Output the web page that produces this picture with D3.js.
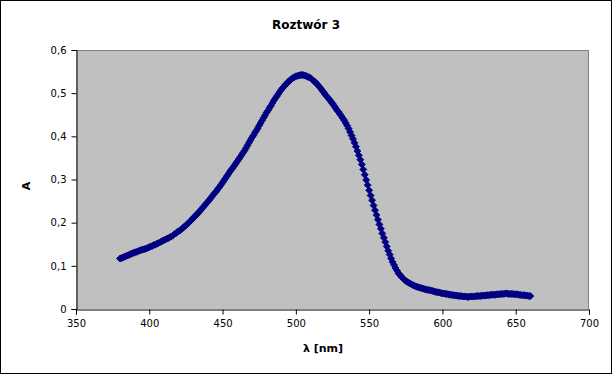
<!DOCTYPE html>
<html><head><meta charset="utf-8">
<script src="https://cdn.jsdelivr.net/npm/d3@7"></script>
<style>body{margin:0;background:#fff}svg{display:block}text{font-family:"DejaVu Sans",sans-serif;fill:#000}</style>
</head><body>
<script>
const titleText = "Roztwór 3";
const xLabel = "λ [nm]";
const yLabel = "A";
const xTicks = [350,400,450,500,550,600,650,700];
const yTicks = [0,0.1,0.2,0.3,0.4,0.5,0.6];
const wavelengths = d3.range(380, 661, 1);
const absorbance = [
.117,.118,.119,.121,.122,.124,.125,.127,.128,.130,
.131,.132,.133,.135,.136,.137,.138,.139,.140,.142,
.143,.145,.146,.148,.149,.151,.152,.154,.156,.158,
.159,.161,.163,.164,.166,.168,.170,.173,.175,.178,
.180,.182,.185,.188,.191,.194,.197,.200,.204,.207,
.211,.214,.218,.221,.225,.229,.233,.237,.241,.245,
.249,.253,.257,.262,.266,.270,.274,.279,.283,.288,
.293,.298,.303,.308,.313,.318,.323,.327,.332,.337,
.342,.347,.352,.357,.362,.367,.373,.379,.385,.391,
.397,.402,.408,.413,.419,.425,.431,.437,.443,.449,
.455,.460,.466,.471,.477,.483,.488,.493,.498,.503,
.508,.512,.516,.520,.523,.527,.530,.533,.535,.537,
.539,.540,.541,.542,.542,.542,.541,.540,.538,.537,
.535,.532,.529,.526,.523,.519,.515,.511,.506,.502,
.497,.493,.489,.485,.480,.476,.471,.466,.461,.457,
.452,.447,.442,.437,.431,.425,.418,.410,.402,.394,
.385,.376,.366,.356,.346,.335,.323,.311,.299,.287,
.275,.263,.252,.240,.229,.218,.207,.196,.186,.175,
.165,.155,.145,.135,.126,.117,.109,.102,.095,.089,
.083,.079,.075,.071,.068,.065,.063,.061,.059,.057,
.055,.054,.052,.051,.050,.049,.048,.047,.046,.045,
.044,.044,.043,.042,.041,.040,.039,.039,.038,.037,
.036,.036,.035,.035,.034,.033,.033,.032,.032,.031,
.031,.030,.030,.030,.029,.029,.029,.028,.028,.029,
.029,.029,.029,.030,.030,.030,.030,.031,.031,.031,
.032,.032,.032,.033,.033,.033,.033,.034,.034,.034,
.035,.035,.035,.036,.036,.035,.035,.035,.035,.034,
.034,.034,.033,.033,.032,.032,.032,.031,.031,.030,
.030];

const W = 613, H = 375;
const L = 76, R = 589, T = 50, B = 309;
const svg = d3.select("body").append("svg").attr("width", W).attr("height", H);

svg.append("rect").attr("x",0.5).attr("y",0.5).attr("width",611).attr("height",373)
  .attr("fill","#fff").attr("stroke","#000");

const x = d3.scaleLinear().domain([350,700]).range([L,R]);
const y = d3.scaleLinear().domain([0,0.6]).range([B,T]);

svg.append("rect").attr("x",L).attr("y",T).attr("width",R-L).attr("height",B-T)
  .attr("fill","#c0c0c0");
svg.append("path").attr("d",`M${L},${T+0.5}H${R-0.5}V${B}`).attr("fill","none").attr("stroke","#808080");

const fmt = d => String(d).replace(".", ",");
const ax = svg.append("g").attr("transform",`translate(0,${B+0.5})`)
  .call(d3.axisBottom(x).tickValues(xTicks).tickSize(5).tickPadding(5).tickFormat(d=>d));
const ay = svg.append("g").attr("transform",`translate(${L+0.5},0)`)
  .call(d3.axisLeft(y).tickValues(yTicks).tickSize(5).tickPadding(5).tickFormat(fmt));
[ax, ay].forEach(g => {
  g.selectAll("path.domain").attr("stroke","#000");
  g.selectAll(".tick line").attr("stroke","#000");
  g.selectAll("text").attr("font-family","DejaVu Sans, sans-serif").attr("font-size",10).attr("fill","#000");
});

const diamond = "M0,-3.5L3.5,0L0,3.5L-3.5,0Z";
svg.append("g").selectAll("path").data(wavelengths.map((w,i)=>[w,absorbance[i]]))
  .join("path").attr("d",diamond)
  .attr("transform",d=>`translate(${x(d[0])},${y(d[1])})`)
  .attr("fill","#000080").attr("stroke","#000080").attr("stroke-width",0.8);

svg.append("text").attr("x",306).attr("y",29).attr("text-anchor","middle")
  .attr("font-size",12).attr("font-weight","bold").text(titleText);
svg.append("text").attr("x",323).attr("y",352).attr("text-anchor","middle")
  .attr("font-size",11).attr("font-weight","bold").text(xLabel);
svg.append("text").attr("transform","translate(30,186) rotate(-90)").attr("text-anchor","middle")
  .attr("font-size",11).attr("font-weight","bold").text(yLabel);
</script>
</body></html>
